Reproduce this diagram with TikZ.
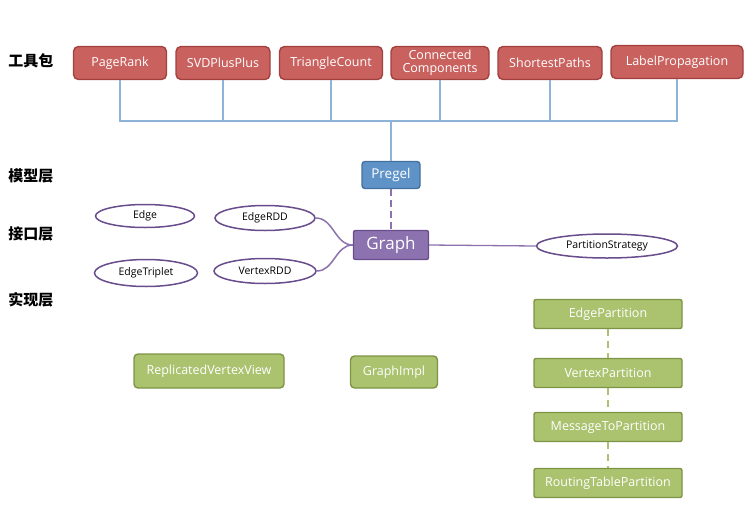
\documentclass[tikz,border=0pt]{standalone}
\usepackage{fontspec}
\setmainfont{Open Sans}
\newfontfamily\cjk{Noto Sans CJK SC}
\usetikzlibrary{shapes.geometric}

\definecolor{toolfill}{HTML}{C9625F}
\definecolor{tooldraw}{HTML}{A2403D}
\definecolor{pregelfill}{HTML}{5F93C8}
\definecolor{pregeldraw}{HTML}{41719C}
\definecolor{graphfill}{HTML}{8C72AE}
\definecolor{graphdraw}{HTML}{684C8C}
\definecolor{implfill}{HTML}{ABC26F}
\definecolor{impldraw}{HTML}{7C9444}
\definecolor{busline}{HTML}{8DB3D9}

\begin{document}
\begin{tikzpicture}[x=1pt, y=-1pt,
every node/.style = {align=center, inner sep=1pt},
tool/.style = {rectangle, rounded corners=5pt, draw=tooldraw, line width=1.4pt, fill=toolfill, text=white,
  minimum height=33pt, font=\fontsize{12.5}{12}\selectfont},
model/.style = {rectangle, rounded corners=3pt, draw=pregeldraw, line width=1.4pt, fill=pregelfill, text=white,
  minimum width=58pt, minimum height=27pt, font=\fontsize{13.5}{13}\selectfont},
iface/.style = {ellipse, draw=graphdraw, line width=1.5pt, fill=white, minimum height=25pt,
  font=\fontsize{10.5}{10}\selectfont},
impl/.style = {rectangle, rounded corners=2pt, draw=impldraw, line width=1.4pt, fill=implfill, text=white,
  minimum height=29pt, font=\fontsize{12.5}{12}\selectfont},
layer/.style = {font=\cjk\bfseries\fontsize{15}{15}\selectfont},
bus/.style = {busline, line width=1.3pt}]

  \useasboundingbox (0,0) rectangle (753,512);

  % layers
  \node[layer] (l1) at (31,61) {工具包};
  \node[layer] (l2) at (31,176) {模型层};
  \node[layer] (l3) at (31,234) {接口层};
  \node[layer] (l4) at (31,300) {实现层};

  % algorithms
  \node[tool, minimum width=93pt] (pr) at (120,63) {PageRank};
  \node[tool, minimum width=94pt] (svd) at (223,63) {SVDPlusPlus};
  \node[tool, minimum width=103pt] (tri) at (331,63) {TriangleCount};
  \node[tool, minimum width=98pt, font=\fontsize{12.5}{13}\selectfont] (cc) at (440,63) {Connected\\Components};
  \node[tool, minimum width=104pt] (sp) at (550,63) {ShortestPaths};
  \node[tool, minimum width=132pt] (lp) at (677,62) {LabelPropagation};

  \coordinate (hub) at (391,121);
  \foreach \n in {pr,svd,tri,cc,sp,lp}
    \draw[bus] (\n.south) |- (hub);

  \node[model] (pregel) at (391,175) {Pregel};
  \draw[bus] (hub) -- (pregel.north);

  % graph and its interfaces
  \node[rectangle, rounded corners=2pt, draw=graphdraw, line width=1.4pt, fill=graphfill, text=white,
    minimum width=75pt, minimum height=29pt, font=\fontsize{17}{17}\selectfont] (graph) at (391,245) {Graph};
  \draw[graphfill, line width=1.8pt, dash pattern=on 7pt off 4pt] (pregel) -- (graph);

  \node[iface, minimum width=99pt, minimum height=23pt] (edge) at (145,216) {Edge};
  \node[iface, minimum width=100pt] (erdd) at (265,218) {EdgeRDD};
  \node[iface, minimum width=103pt, minimum height=27pt] (trip) at (146,273) {EdgeTriplet};
  \node[iface, minimum width=102pt] (vrdd) at (265,271) {VertexRDD};
  \node[iface, minimum width=141pt, minimum height=24pt] (pstrat) at (607,246) {PartitionStrategy};

  \draw[graphfill, line width=1.5pt] (erdd.east) to[out=0, in=180] (graph.west);
  \draw[graphfill, line width=1.5pt] (vrdd.east) to[out=0, in=180] (graph.west);
  \draw[graphfill, line width=1.3pt] (graph.east) -- (pstrat.west);

  % implementation
  \node[impl, minimum width=150pt, minimum height=34pt, rounded corners=4pt] (rvv) at (209,371) {ReplicatedVertexView};
  \node[impl, minimum width=87pt, minimum height=32pt, rounded corners=4pt] (gimpl) at (394,372) {GraphImpl};

  \node[impl, minimum width=148pt] (ep) at (608,314) {EdgePartition};
  \node[impl, minimum width=148pt] (vp) at (608,373) {VertexPartition};
  \node[impl, minimum width=148pt] (mp) at (608,427) {MessageToPartition};
  \node[impl, minimum width=148pt] (rp) at (608,483) {RoutingTablePartition};

  \draw[implfill, line width=1.8pt, dash pattern=on 7pt off 5pt] (ep) -- (vp) (vp) -- (mp) (mp) -- (rp);
\end{tikzpicture}
\end{document}
